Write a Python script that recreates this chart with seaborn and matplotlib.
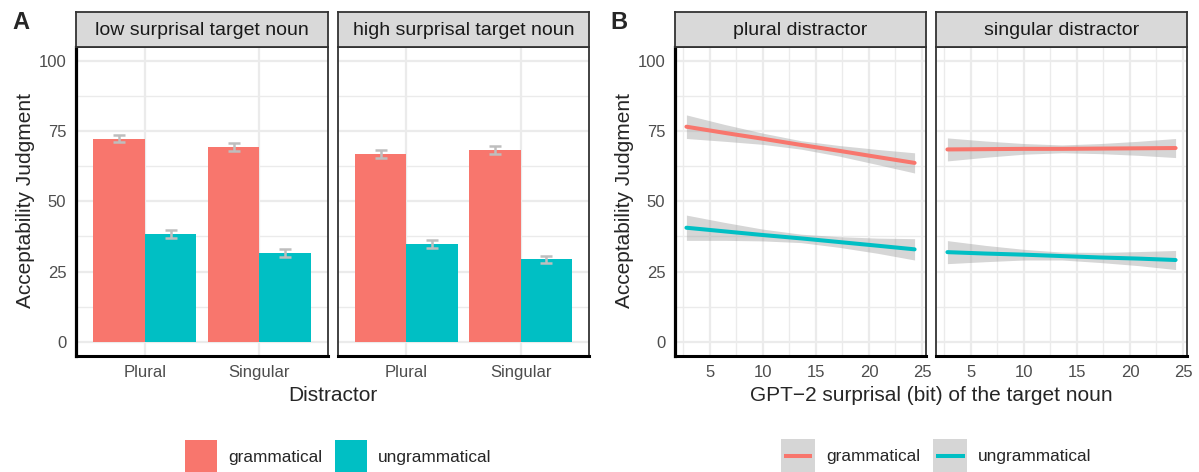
import numpy as np
import pandas as pd
import matplotlib
matplotlib.use("Agg")
import matplotlib.pyplot as plt
from matplotlib.patches import Patch, Rectangle
from matplotlib.lines import Line2D
from matplotlib.legend_handler import HandlerBase
import seaborn as sns

# ---------------- data ----------------
distractor = ["Plural", "Singular"]
conditions = ["grammatical", "ungrammatical"]
facets_A = ["low surprisal target noun", "high surprisal target noun"]
facets_B = ["plural distractor", "singular distractor"]

low_gram = [72.3, 69.5]
low_ungram = [38.4, 31.6]
high_gram = [67.0, 68.4]
high_ungram = [34.8, 29.4]
low_gram_se = [1.25, 1.4]
low_ungram_se = [1.5, 1.5]
high_gram_se = [1.4, 1.35]
high_ungram_se = [1.4, 1.3]

surprisal = [2.8, 6.4, 10.0, 13.6, 17.2, 20.8, 24.3]
pl_gram_fit = [76.6, 74.4, 72.3, 70.1, 68.0, 65.8, 63.7]
pl_gram_lo = [72.4, 71.4, 70.3, 68.6, 66.1, 63.1, 60.1]
pl_gram_hi = [80.8, 77.4, 74.3, 71.6, 69.9, 68.5, 67.3]
pl_ungram_fit = [40.6, 39.3, 38.0, 36.8, 35.5, 34.2, 32.9]
pl_ungram_lo = [36.1, 36.1, 35.9, 35.3, 33.6, 31.5, 29.1]
pl_ungram_hi = [45.1, 42.5, 40.1, 38.3, 37.4, 36.9, 36.7]
sg_gram_fit = [68.5, 68.6, 68.7, 68.7, 68.8, 68.9, 69.0]
sg_gram_lo = [64.4, 65.7, 66.8, 67.3, 67.0, 66.4, 65.6]
sg_gram_hi = [72.6, 71.5, 70.6, 70.1, 70.6, 71.4, 72.4]
sg_ungram_fit = [31.9, 31.4, 31.0, 30.5, 30.0, 29.6, 29.1]
sg_ungram_lo = [27.8, 28.5, 29.1, 29.1, 28.2, 27.1, 25.7]
sg_ungram_hi = [36.0, 34.3, 32.9, 31.9, 31.8, 32.1, 32.5]

y_ticks = [0, 25, 50, 75, 100]
x_ticks_B = [5, 10, 15, 20, 25]

# ---------------- style ----------------
sns.set_style("white")
plt.rcParams["font.family"] = ["Liberation Sans", "DejaVu Sans"]

RED = "#F8766D"
CYAN = "#00BFC4"
palette = {"grammatical": RED, "ungrammatical": CYAN}
GRID = "#EBEBEB"
BORDER = "#333333"

W, H = 1199, 472
fig = plt.figure(figsize=(W / 100, H / 100), dpi=100)


def rect(x0, x1, y0, y1):
    return [x0 / W, 1 - y1 / H, (x1 - x0) / W, (y1 - y0) / H]


PT, PB = 47, 355.7
ST = 12

axA = [fig.add_axes(rect(76, 328, PT, PB)), fig.add_axes(rect(338, 589, PT, PB))]
axB = [fig.add_axes(rect(675, 926, PT, PB)), fig.add_axes(rect(936, 1187, PT, PB))]

strip_specs = [(76, 328, facets_A[0]), (338, 589, facets_A[1]),
               (675, 926, facets_B[0]), (936, 1187, facets_B[1])]
for x0, x1, lab in strip_specs:
    s = fig.add_axes(rect(x0, x1, ST, PT))
    s.set_facecolor("#D9D9D9")
    s.set_xticks([]); s.set_yticks([])
    for sp in s.spines.values():
        sp.set_color(BORDER); sp.set_linewidth(1.3)
    s.text(0.5, 0.47, lab, ha="center", va="center", fontsize=14, color="#1A1A1A",
           transform=s.transAxes)


def style_axes(ax, first):
    ax.set_axisbelow(True)
    ax.set_ylim(-5, 105)
    ax.set_yticks(y_ticks)
    ax.set_yticks([12.5, 37.5, 62.5, 87.5], minor=True)
    ax.grid(which="major", color=GRID, lw=1.6)
    ax.grid(which="minor", color=GRID, lw=1.0)
    ax.tick_params(which="minor", length=0)
    ax.tick_params(axis="x", which="major", length=5, width=1.4, color=BORDER,
                   labelsize=12, labelcolor="#4D4D4D", pad=1.5)
    if first:
        ax.tick_params(axis="y", which="major", length=5, width=1.4, color=BORDER,
                       labelsize=12, labelcolor="#4D4D4D", pad=2)
        ax.spines["left"].set_color("black"); ax.spines["left"].set_linewidth(2.3)
    else:
        ax.tick_params(axis="y", which="major", length=0, labelleft=False)
        ax.spines["left"].set_color(BORDER); ax.spines["left"].set_linewidth(1.3)
    for k in ["top", "right"]:
        ax.spines[k].set_color(BORDER); ax.spines[k].set_linewidth(1.3)
    ax.spines["bottom"].set_color("black"); ax.spines["bottom"].set_linewidth(2.2)
    ax.set_xlabel(""); ax.set_ylabel("")


# ---------------- Panel A ----------------
bar_sets = [(low_gram, low_ungram, low_gram_se, low_ungram_se),
            (high_gram, high_ungram, high_gram_se, high_ungram_se)]
for i, (g, u, gse, use) in enumerate(bar_sets):
    ax = axA[i]
    df = pd.DataFrame({
        "distractor": distractor * 2,
        "condition": [conditions[0]] * 2 + [conditions[1]] * 2,
        "judgment": g + u,
        "se": gse + use,
    })
    sns.barplot(data=df, x="distractor", y="judgment", hue="condition",
                hue_order=conditions, order=distractor, palette=palette,
                width=0.9, errorbar=None, saturation=1, linewidth=0,
                legend=False, ax=ax)
    for j, cond in enumerate(conditions):
        sub = df[df["condition"] == cond]
        xs = np.arange(len(distractor)) + (j - 0.5) * 0.45
        ax.errorbar(xs, sub["judgment"], yerr=sub["se"], fmt="none",
                    ecolor="#BEBEBE", elinewidth=1.8, capsize=4.1, capthick=1.8,
                    zorder=5)
    ax.set_xlim(-0.6, 1.6)
    ax.set_xticks(range(len(distractor)))
    ax.set_xticklabels(distractor)
    style_axes(ax, i == 0)

# ---------------- Panel B ----------------
lines_B = [
    [(pl_gram_fit, pl_gram_lo, pl_gram_hi), (pl_ungram_fit, pl_ungram_lo, pl_ungram_hi)],
    [(sg_gram_fit, sg_gram_lo, sg_gram_hi), (sg_ungram_fit, sg_ungram_lo, sg_ungram_hi)],
]
xs_B = np.array(surprisal)
span = xs_B.max() - xs_B.min()
for i in range(2):
    ax = axB[i]
    rows = []
    for j, cond in enumerate(conditions):
        fit, lo, hi = lines_B[i][j]
        ax.fill_between(xs_B, lo, hi, color="#999999", alpha=0.4, linewidth=0, zorder=2)
        for x, y in zip(surprisal, fit):
            rows.append({"surprisal": x, "fit": y, "condition": cond})
    df = pd.DataFrame(rows)
    sns.lineplot(data=df, x="surprisal", y="fit", hue="condition", hue_order=conditions,
                 palette=palette, linewidth=2.9, estimator=None, errorbar=None,
                 legend=False, ax=ax, zorder=3)
    ax.set_xlim(xs_B.min() - 0.05 * span, xs_B.max() + 0.05 * span)
    ax.set_xticks(x_ticks_B)
    ax.set_xticks([2.5, 7.5, 12.5, 17.5, 22.5], minor=True)
    style_axes(ax, i == 0)

# ---------------- titles & labels ----------------
fig.text(26 / W, 1 - 201 / H, "Acceptability Judgment", rotation=90, ha="center",
         va="center", fontsize=15)
fig.text(625 / W, 1 - 201 / H, "Acceptability Judgment", rotation=90, ha="center",
         va="center", fontsize=15)
fig.text(332.5 / W, 1 - 401 / H, "Distractor", ha="center", va="baseline", fontsize=15)
fig.text(931 / W, 1 - 401 / H, "GPT\u22122 surprisal (bit) of the target noun",
         ha="center", va="baseline", fontsize=15)
fig.text(12 / W, 1 - 22.5 / H, "A", ha="left", va="center", fontsize=17, fontweight="bold")
fig.text(610 / W, 1 - 22.5 / H, "B", ha="left", va="center", fontsize=17, fontweight="bold")


# ---------------- legends ----------------
class KeyHandler(HandlerBase):
    def __init__(self, size_pt, box_color=None, line=False):
        super().__init__()
        self.size = size_pt
        self.box_color = box_color
        self.line = line

    def create_artists(self, legend, orig_handle, xdescent, ydescent, width, height,
                       fontsize, trans):
        s = self.size
        cx = -xdescent + width / 2
        cy = -ydescent + height / 2
        color = orig_handle.get_facecolor() if not self.line else orig_handle.get_color()
        box = Rectangle((cx - s / 2, cy - s / 2), s, s,
                        facecolor=self.box_color if self.line else color,
                        edgecolor="none", transform=trans)
        arts = [box]
        if self.line:
            ln = Line2D([cx - 0.42 * s, cx + 0.42 * s], [cy, cy], color=color, lw=2.9,
                        solid_capstyle="butt", transform=trans)
            arts.append(ln)
        return arts


fs_leg = 12.4
keyA = 23.0
keyB = 24.5
hA = [Patch(facecolor=palette[c], edgecolor="none") for c in conditions]
fig.legend(hA, conditions, loc="center", bbox_to_anchor=(338.5 / W, 1 - 456 / H),
           ncol=2, frameon=False, fontsize=fs_leg, handlelength=keyA / fs_leg,
           handleheight=keyA / fs_leg, handletextpad=0.64, columnspacing=0.75,
           borderaxespad=0, borderpad=0,
           handler_map={h: KeyHandler(keyA) for h in hA})
hB = [Line2D([], [], color=palette[c]) for c in conditions]
fig.legend(hB, conditions, loc="center", bbox_to_anchor=(936.5 / W, 1 - 456 / H),
           ncol=2, frameon=False, fontsize=fs_leg, handlelength=keyB / fs_leg,
           handleheight=keyB / fs_leg, handletextpad=0.64, columnspacing=0.75,
           borderaxespad=0, borderpad=0,
           handler_map={h: KeyHandler(keyB, box_color="#D6D6D6", line=True) for h in hB})

fig.savefig("out.png", dpi=100)
